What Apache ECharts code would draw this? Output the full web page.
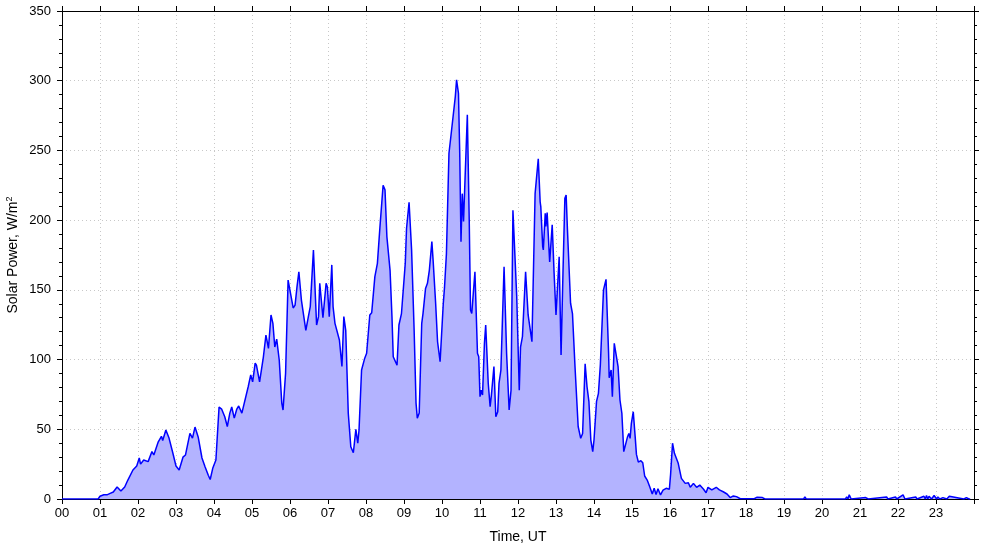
<!DOCTYPE html>
<html>
<head>
<meta charset="utf-8">
<script src="https://cdn.jsdelivr.net/npm/echarts@6/dist/echarts.min.js"></script>
<style>
html,body{margin:0;padding:0;background:#fff;}
#chart{width:985px;height:547px;}
</style>
</head>
<body>
<div id="chart"></div>
<script>
// Time in minutes after 00 UT
var times = [0,57,60,63,66,71,76,81,87,93,99,104,112,118,122,124,129,136,142,145,152,157,159,164,169,175,180,185,191,195,202,206,210,215,221,226,231,234,238,243,248,252,257,261,265,268,272,276,279,284,286,294,298,301,305,307,312,314,318,322,326,330,333,336,339,343,347,349,353,357,360,365,368,371,374,378,381,385,389,392,394,397,402,405,407,412,417,419,422,426,428,431,434,438,442,445,448,452,456,459,460,464,467,469,473,478,481,486,489,492,494,498,502,507,510,513,518,521,523,526,529,532,536,542,544,548,552,556,559,561,564,568,570,574,577,580,584,586,590,593,594,597,599,602,604,607,611,614,617,621,623,626,628,630,632,634,636,640,643,645,647,652,656,658,660,662,664,667,669,673,676,678,682,685,688,690,693,698,702,706,709,712,714,718,722,724,727,732,736,742,747,752,755,756,759,760,763,764,766,770,774,777,780,785,788,791,794,796,798,801,803,806,810,815,819,822,826,829,832,835,838,840,844,847,850,855,859,863,864,867,869,872,875,878,881,884,887,890,893,895,897,899,902,905,907,910,914,917,918,920,924,928,932,935,938,941,945,949,954,959,961,964,967,969,973,978,984,989,992,997,1002,1007,1013,1017,1020,1026,1033,1038,1044,1050,1055,1060,1065,1071,1086,1089,1093,1097,1100,1106,1110,1171,1173,1175,1182,1184,1186,1205,1207,1209,1221,1223,1225,1237,1239,1241,1243,1246,1249,1269,1271,1273,1302,1304,1306,1316,1318,1320,1328,1331,1334,1348,1350,1352,1361,1363,1365,1367,1369,1373,1375,1377,1381,1383,1386,1389,1391,1397,1399,1401,1424,1426,1428,1432,1434,1436,1440];
// Solar power, W/m2
var power = [0,0,2,1,3,3,4,5,8.6,5.7,8.6,13.6,20.8,23.7,29.4,25,28,26.8,34,31.6,41,45,42,49.5,43.7,33,23.7,20.8,30,31.6,47,43.7,51.6,44.5,29.4,23,17,14,22,28,66,64.5,59,52,61.6,66,58,64.5,66.7,61.6,62,80.5,89,84,97.5,96,84,83,102,117.6,108,132,126,109,114.7,99.7,68.8,63.8,90,157,156,137,139,152,163,142.7,144,121,130.8,138,137,178.6,124.8,130.8,154.7,130,154.7,152,130.8,167.9,138,126,127,114,95,130.8,121,61.6,37.5,36.6,33.2,50,40,49.5,92.5,101,104.5,132,133.6,134,159.5,169,195,225,221.7,188,164,130.8,102,101,96,124.8,133,169,194,212.8,178.6,121,68.8,58,61.7,126,133,151,154.7,164,184.6,171,140,112.8,114,98.5,99.7,140,152,176,248,260,261,288.6,300.6,291,248,184.6,219,199,197.8,275.5,200,135.6,133,163,104.5,102,73.4,78,74.6,111.7,124.8,83,66.2,74.6,95,59,62.6,83,92.5,166.6,104.5,63.8,78,207,206.5,145,78,109,116.4,163,132,112.8,219,244,213,209.7,181,178.6,205,195.4,205.4,170,196.6,162,132,173.8,103.3,162,215.7,218,194,194,140.4,133,95,52,43.5,47,97,80.5,69.8,42.3,34,42.3,70,75.8,96,150,157.5,105,87,92.5,73.4,111.7,111.5,95,71,61.5,34,32.8,44.7,47,43.5,54.3,62.6,44.7,32,26.5,27.5,26,26.8,16.5,13.6,8.8,3.6,7.7,3.2,7.3,2.9,6.3,7.7,7,18,40,32.8,34,25.6,14.8,11.2,11.7,8.4,11.2,8.4,10,7,4.5,8.4,6.5,8.4,6.5,5.2,3.6,1,2.2,1.7,0.2,0.2,1.5,0.2,1.2,0.2,1,0,0,1.5,0,0,1,0,0,1,0,0,1,0,0,1.5,0,3,0,0,1,0,0,1.5,0,0,1.5,0,0,3,0,0,1.5,0,0,2,0,2.5,0,2,0,0,2.5,0,1.5,0,0,1,0,0,2,0,0,1,0,0];
var hourLabels = ['00','01','02','03','04','05','06','07','08','09','10','11','12','13','14','15','16','17','18','19','20','21','22','23'];

var seriesData = times.map(function (t, i) { return [t, power[i]]; });

var font = 'Liberation Sans, Arial, sans-serif';
var chart = echarts.init(document.getElementById('chart'), null, {renderer: 'canvas'});
chart.setOption({
  animation: false,
  backgroundColor: '#fff',
  grid: {left: 62, right: 11, top: 11, bottom: 48, containLabel: false, outerBoundsMode: 'none'},
  xAxis: [{
    type: 'value', min: 0, max: 1440, interval: 60, position: 'bottom',
    name: 'Time, UT', nameLocation: 'middle', nameGap: 31,
    nameTextStyle: {fontFamily: font, fontSize: 14, color: '#000'},
    axisLine: {show: true, onZero: false, lineStyle: {color: '#000', width: 1}},
    axisTick: {show: true, inside: false, length: 5, lineStyle: {color: '#000'}},
    axisLabel: {fontFamily: font, fontSize: 13, color: '#000', margin: 8,
      formatter: function (v) { return v < 1440 ? hourLabels[Math.round(v / 60)] : ''; }},
    splitLine: {show: true, lineStyle: {type: [1, 3], color: '#c8c8c8', width: 1}}
  }, {
    type: 'value', min: 0, max: 1440, interval: 60, position: 'top',
    axisLine: {show: true, onZero: false, lineStyle: {color: '#000', width: 1}},
    axisTick: {show: true, inside: false, length: 5, lineStyle: {color: '#000'}},
    axisLabel: {show: false}, splitLine: {show: false}
  }],
  yAxis: [{
    type: 'value', min: 0, max: 350, interval: 50, position: 'left',
    name: 'Solar Power, W/m{sup|2}', nameLocation: 'middle', nameGap: 41, nameRotate: 90,
    nameMoveOverlap: false,
    nameTextStyle: {fontFamily: font, fontSize: 14, color: '#000',
      rich: {sup: {fontFamily: font, fontSize: 9, color: '#000', padding: [0, 0, 7, 0]}}},
    axisLine: {show: true, onZero: false, lineStyle: {color: '#000', width: 1}},
    axisTick: {show: true, inside: false, length: 5, lineStyle: {color: '#000'}},
    minorTick: {show: true, splitNumber: 5, length: 3, lineStyle: {color: '#000'}},
    axisLabel: {fontFamily: font, fontSize: 13, color: '#000', margin: 11},
    splitLine: {show: true, lineStyle: {type: [1, 3], color: '#c8c8c8', width: 1}}
  }, {
    type: 'value', min: 0, max: 350, interval: 50, position: 'right',
    axisLine: {show: true, onZero: false, lineStyle: {color: '#000', width: 1}},
    axisTick: {show: true, inside: false, length: 5, lineStyle: {color: '#000'}},
    minorTick: {show: true, splitNumber: 5, length: 3, lineStyle: {color: '#000'}},
    axisLabel: {show: false}, splitLine: {show: false}
  }],
  series: [{
    type: 'line', xAxisIndex: 0, yAxisIndex: 0,
    data: seriesData, showSymbol: false, symbol: 'none',
    lineStyle: {color: '#0000ff', width: 1.5},
    areaStyle: {color: '#b3b3ff', opacity: 1},
    z: 3
  }]
});
</script>
</body>
</html>
